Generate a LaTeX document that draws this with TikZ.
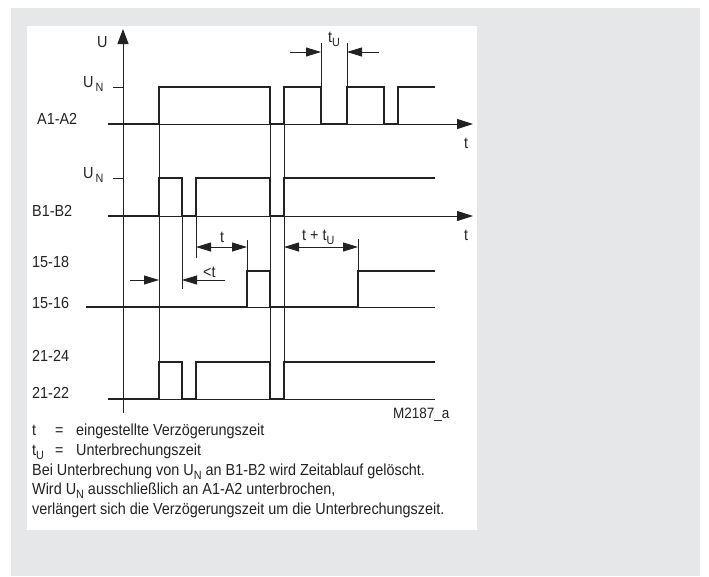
\documentclass[tikz,border=0pt]{standalone}
\usepackage{fontspec}
\setmainfont{Liberation Sans}[FakeStretch=0.9]
\usetikzlibrary{arrows.meta}
\definecolor{bggray}{HTML}{E6E7E9}
\definecolor{ink}{HTML}{222222}
\newcommand\subx[1]{\raisebox{-4pt}{\fontsize{12}{12}\selectfont #1}}
\begin{document}
\begin{tikzpicture}[x=1pt,y=-1pt,
  thinln/.style={line width=1pt, draw=ink},
  sig/.style={line width=2.6pt, draw=ink, line join=miter, line cap=butt},
  lbl/.style={inner sep=0pt, anchor=base west, text=ink, font=\fontsize{16}{19}\selectfont},
  dimtip/.style={-{Triangle[length=15pt,width=9pt]}},
  dimboth/.style={{Triangle[length=15pt,width=9pt]}-{Triangle[length=15pt,width=9pt]}},
]
\useasboundingbox (0,0) rectangle (709,576);
\fill[bggray] (11,8) rectangle (700,576);
\fill[white] (27,26) rectangle (477,530);

% axes
\draw[thinln, -{Triangle[length=15pt,width=11pt]}] (123,413) -- (123,29);
\draw[thinln, -{Triangle[length=16pt,width=10pt]}] (108,124) -- (473,124);
\draw[thinln, -{Triangle[length=16pt,width=10pt]}] (108,216) -- (473,216);
\draw[thinln] (86,307) -- (435,307);
\draw[thinln] (108,399) -- (435,399);
\draw[thinln] (113,87) -- (123,87);
\draw[thinln] (113,178) -- (123,178);

% thin verticals
\draw[thinln] (159,87) -- (159,399);
\draw[thinln] (270,87) -- (270,399);
\draw[thinln] (284,87) -- (284,399);
\draw[thinln] (182,216) -- (182,289);
\draw[thinln] (196,216) -- (196,258);
\draw[thinln] (247,240) -- (247,271);
\draw[thinln] (358,239) -- (358,271);
\draw[thinln] (321,124) -- (321,43);
\draw[thinln] (347,124) -- (347,43);

% signals
\draw[sig] (108,124) -- (159,124) -- (159,87) -- (270,87) -- (270,124) -- (284,124) -- (284,87) -- (321,87) -- (321,124) -- (347,124) -- (347,87) -- (384,87) -- (384,124) -- (398,124) -- (398,87) -- (435,87);
\draw[sig] (108,216) -- (159,216) -- (159,178) -- (182,178) -- (182,216) -- (196,216) -- (196,178) -- (270,178) -- (270,216) -- (284,216) -- (284,178) -- (398,178);
\draw[thinln, line width=1.6pt] (398,178) -- (435,178);
\draw[sig] (86,307) -- (247,307) -- (247,271) -- (270,271) -- (270,307) -- (358,307) -- (358,271) -- (435,271);
\draw[sig] (108,399) -- (159,399) -- (159,362) -- (182,362) -- (182,399) -- (196,399) -- (196,362) -- (270,362) -- (270,399) -- (284,399) -- (284,362) -- (435,362);

% dimensions
\draw[thinln, dimtip] (290,52) -- (321,52);
\draw[thinln, dimtip] (379,52) -- (347,52);
\draw[thinln, dimtip] (130,280) -- (159,280);
\draw[thinln, dimtip] (225,280) -- (182,280);
\draw[thinln, dimboth] (196,247) -- (247,247);
\draw[thinln, dimboth] (284,247) -- (358,247);

% labels
\node[lbl] (lU) at (97,47) {U};
\node[lbl] (lUN1) at (83,87) {U\hspace{2pt}\subx{N}};
\node[lbl] (lUN2) at (83,178) {U\hspace{2pt}\subx{N}};
\node[lbl] (lA) at (37,124) {A1-A2};
\node[lbl] (lB) at (32,216) {B1-B2};
\node[lbl] (l1518) at (32,267) {15-18};
\node[lbl] (l1516) at (32,308) {15-16};
\node[lbl] (l2124) at (32,361) {21-24};
\node[lbl] (l2122) at (32,398) {21-22};
\node[lbl] (lt1) at (464,148) {t};
\node[lbl] (lt2) at (464,240) {t};
\node[lbl] (ltu) at (328,42) {t\subx{U}};
\node[lbl] (ltd) at (220,242) {t};
\node[lbl] (llt) at (203,277) {<t};
\node[lbl] (ltpt) at (302,240) {t + t\subx{U}};
\node[lbl, font=\fontsize{15}{18}\selectfont] (lM) at (393,418) {M2187\_a};

% legend
\node[lbl] (g1a) at (32,435) {t};
\node[lbl] (g1b) at (55,435) {=};
\node[lbl] (g1c) at (76,435) {eingestellte Verzögerungszeit};
\node[lbl] (g2a) at (32,455) {t\subx{U}};
\node[lbl] (g2b) at (55,455) {=};
\node[lbl] (g2c) at (76,455) {Unterbrechungszeit};
\node[lbl] (g3) at (32,475) {Bei Unterbrechung von U\subx{N} an B1-B2 wird Zeitablauf gelöscht.};
\node[lbl] (g4) at (32,494) {Wird U\subx{N} ausschließlich an A1-A2 unterbrochen,};
\node[lbl] (g5) at (32,514) {verlängert sich die Verzögerungszeit um die Unterbrechungszeit.};
\end{tikzpicture}
\end{document}
